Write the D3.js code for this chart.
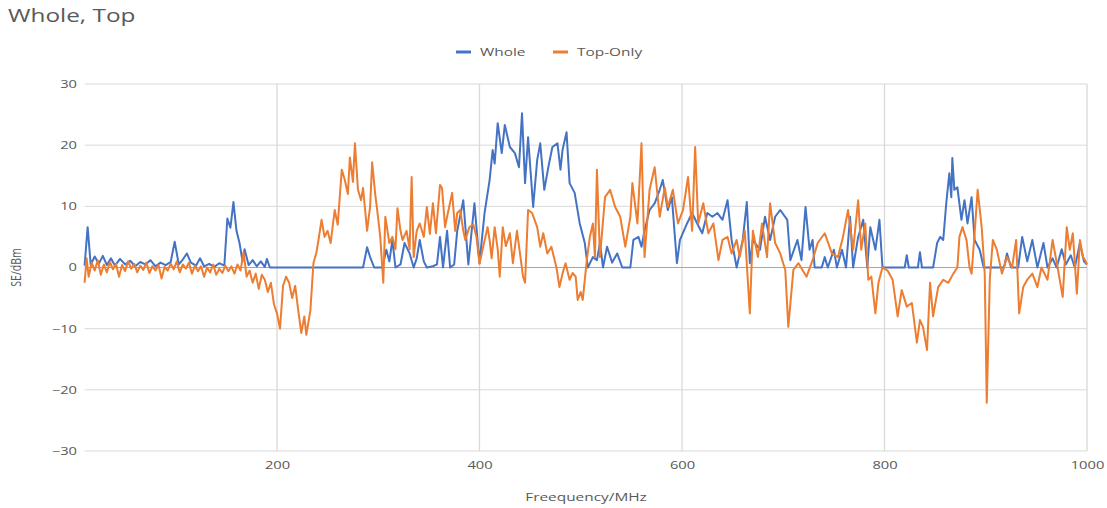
<!DOCTYPE html>
<html>
<head>
<meta charset="utf-8">
<script src="https://cdn.jsdelivr.net/npm/d3@7"></script>
<style>
  html, body { margin: 0; padding: 0; background: #fff; }
  svg { display: block; font-family: "Open Sans", "Noto Sans", sans-serif; }
</style>
</head>
<body>
<svg id="chart" width="1107" height="508"></svg>
<script>
// Frequency (MHz) and level (dBm) samples for each configuration
const wholeFreq = [10,13,16,20,24,28,32,36,40,45,50,55,60,65,70,75,80,85,90,95,99,103,107,111,115,120,124,128,133,138,143,148,151,154,157,160,163,166,168,172,176,180,184,188,190,193,285,289,292,296,304,308,311,314,317,322,326,331,335,338,341,345,348,354,358,361,364,368,371,375,378,384,389,395,400,405,410,413,415,418,422,425,430,435,439,442,445,448,453,457,460,464,468,472,477,480,482,486,489,494,499,504,507,512,516,519,522,526,531,536,541,549,552,557,560,563,568,573,578,581,586,590,595,598,605,610,615,620,625,630,635,640,645,649,654,660,664,667,670,677,682,687,692,697,704,707,714,718,722,726,729,731,738,741,744,750,753,758,762,766,769,774,779,783,786,791,795,798,820,822,824,833,835,837,848,852,855,858,861,864,866,867,869,872,876,879,882,886,889,894,898,918,921,925,932,936,941,946,951,957,961,966,970,975,979,984,988,993,997,1000];
const wholeVal = [0.3,6.6,0.5,1.8,0.6,1.9,0.4,1.5,0.3,1.4,0.5,1.1,0.2,0.9,0.5,1.2,0.2,0.8,0.4,0.9,4.2,0.5,1.3,2.3,0.8,0.3,1.5,0.2,0.6,0.1,0.7,0.3,8.0,6.5,10.7,6.0,4.0,1.0,3.0,0.4,1.2,0.2,1.0,0.1,1.4,0,0,3.3,1.7,0,0,2.9,1.0,4.5,0,0.5,4.0,2.3,0,1.5,4.5,1.0,0,0.2,0.5,5.0,0,6.0,0,0.5,6.0,11.0,0.5,10.5,0.7,8.9,14.3,19.2,17.0,23.6,18.7,23.3,19.7,18.7,16.4,25.2,13.8,21.3,9.9,17.6,20.3,12.7,16.4,19.7,20.3,16.0,19.2,22.1,13.8,12.2,7.2,4.0,0,1.7,1.2,4.0,0,3.4,0.8,2.3,0,0,4.5,5.0,3.4,6.0,9.4,10.5,12.7,14.3,9.4,11.5,0.7,4.5,7.2,8.9,7.2,5.6,8.9,8.3,8.9,7.8,11.0,4.5,0,4.5,10.7,0.7,4.5,2.9,8.3,4.5,8.3,9.4,7.8,1.2,4.5,1.2,9.9,2.9,4.5,0,0,1.7,0,2.9,0,2.9,0,8.3,0,5.0,7.8,0,6.6,2.9,7.8,0,0,2.0,0,0,2.5,0,0,4.0,5.0,4.5,10.5,15.4,11.5,17.9,12.7,13.1,7.8,11.0,7.2,11.5,4.5,2.9,0,0,2.3,0,0,5.0,1.0,4.5,0,4.0,0,1.5,0,3.0,0.5,2.0,0,4.0,1.0,0.5];

const topFreq = [10,12,14,17,20,23,26,29,32,35,38,41,44,47,50,53,56,59,62,65,68,71,74,77,80,83,86,89,92,95,98,101,104,107,110,113,116,119,122,125,128,131,134,137,140,143,146,149,152,155,158,161,164,167,170,173,176,179,182,185,188,191,194,197,200,203,206,209,212,215,218,221,224,227,229,231,233,236,239,241,244,247,250,253,257,260,264,267,270,272,275,277,280,283,285,289,292,294,297,299,302,305,307,311,314,317,319,322,324,328,331,333,335,338,341,345,348,351,354,357,361,363,366,368,373,376,378,381,384,386,390,394,397,400,403,408,410,412,415,418,420,423,426,430,433,437,440,443,445,448,452,457,460,463,467,471,476,479,482,485,489,492,495,497,500,502,506,509,512,514,516,519,524,529,534,539,544,549,551,556,560,563,568,573,578,583,586,591,596,601,606,610,613,616,621,626,631,636,640,645,649,654,657,662,667,670,675,679,684,687,692,697,702,705,710,715,719,723,729,734,741,748,754,759,764,769,774,777,781,784,787,791,794,798,803,808,813,817,822,827,832,835,838,842,845,848,853,858,863,868,872,874,877,881,884,886,889,892,896,899,901,904,907,911,916,921,926,930,933,937,941,946,951,955,961,966,971,976,980,983,986,990,993,996,998,1000];
const topVal = [-2.5,1.5,-1.5,0.8,-0.5,1.2,-1.2,0.5,-0.8,0.9,-0.3,0.6,-1.5,0.4,-0.6,1.0,-0.2,0.6,-0.8,0.3,-0.4,0.8,-0.9,0.2,-0.5,0.4,-1.8,0.1,-0.5,0.6,-0.3,1.0,-0.8,0.5,-0.2,0.8,-1.0,0.3,-0.6,0.2,-1.5,0.0,-0.8,0.5,-1.2,-0.2,-0.9,0.3,-0.6,0.2,-1.0,0.5,-0.5,2.5,-1.5,-0.5,-2.5,-1.0,-3.5,-1.2,-2.0,-4.0,-2.5,-6.0,-7.5,-10.0,-3.0,-1.5,-2.5,-5.0,-3.0,-7.0,-10.7,-8.0,-11.0,-9.0,-7.0,0.7,2.5,4.5,7.8,5.0,6.0,4.0,9.4,7.0,16.0,14.3,12.0,18.0,14.0,20.3,12.7,11.0,13.0,6.0,10.0,17.2,12.0,9.4,5.0,-2.5,8.3,4.0,5.0,3.0,9.7,6.0,4.5,6.0,3.0,14.8,1.7,6.0,7.2,5.0,9.9,5.5,10.5,5.6,13.5,13.0,6.6,8.3,12.2,6.0,8.9,9.4,6.0,4.5,6.6,7.0,5.0,0.6,2.9,6.6,4.5,1.5,6.6,3.0,-1.5,6.6,3.5,5.6,0.7,6.0,2.3,-1.5,-2.5,9.4,8.9,6.6,3.4,5.6,2.3,3.4,0.0,-3.2,-1.0,0.7,-2.0,-0.9,-1.5,-5.3,-4.0,-5.3,1.2,5.0,7.2,1.7,16.0,1.7,11.5,12.7,9.9,8.3,3.4,8.3,13.8,7.2,20.3,1.7,12.7,16.4,8.3,13.1,9.9,12.7,7.2,9.4,14.8,6.0,19.7,7.2,10.5,5.6,7.2,1.2,4.5,5.0,2.3,4.5,1.7,6.0,-7.5,6.0,1.7,7.2,1.7,10.5,4.0,2.3,-0.4,-9.7,-0.4,0.7,-0.4,-1.5,1.2,4.0,5.6,2.3,1.7,5.0,9.4,2.9,11.0,2.9,7.2,-2.0,-1.5,-7.5,-2.5,0,-0.5,-2.0,-8.0,-3.7,-6.4,-5.8,-12.3,-8.6,-9.7,-13.5,-2.5,-8.0,-3.2,-2.0,-2.5,-1.0,0,5.0,6.6,4.5,0,-1.0,5.6,12.7,6.6,-1.0,-22.1,-2.0,4.5,2.9,-1.0,1.7,0,4.5,-7.5,-3.2,-2.0,-1.0,-3.2,0,-2.0,4.5,0,-4.8,6.6,2.9,5.6,-4.3,4.5,1.7,1.2,0.5];

const xTicks = [200, 400, 600, 800, 1000];
const yTicks = [-30, -20, -10, 0, 10, 20, 30];
const seriesNames = ["Whole", "Top-Only"];
const seriesColors = ["#4472C4", "#ED7D31"];

// The chart's lettering is drawn horizontally widened
const WIDE = 1.4;
const TEXT = "#595959";

const svg = d3.select("#chart");
const x = d3.scaleLinear().domain([10, 1000]).range([84.6, 1087]);
const y = d3.scaleLinear().domain([-30, 30]).range([451, 84]);

// Place a widened text label with its anchor at (px, py)
function wideText(px, py, str, size, anchor) {
  return svg.append("text")
    .attr("transform", `translate(${px},${py}) scale(${WIDE},1)`)
    .attr("text-anchor", anchor || "start")
    .attr("font-size", size).attr("fill", TEXT)
    .text(str);
}

// Title
wideText(8, 22, "Whole, Top", 17.4);

// Horizontal gridlines
svg.append("g").selectAll("line")
  .data(yTicks.filter(d => d !== 0))
  .join("line")
  .attr("x1", x(10)).attr("x2", x(1000))
  .attr("y1", d => y(d)).attr("y2", d => y(d))
  .attr("stroke", "#d9d9d9").attr("stroke-width", 1);

// Vertical gridlines
svg.append("g").selectAll("line")
  .data(xTicks)
  .join("line")
  .attr("x1", d => x(d)).attr("x2", d => x(d))
  .attr("y1", y(30)).attr("y2", y(-30))
  .attr("stroke", "#d9d9d9").attr("stroke-width", 1.3);

// Zero axis line
svg.append("line")
  .attr("x1", x(10)).attr("x2", x(1000))
  .attr("y1", y(0)).attr("y2", y(0))
  .attr("stroke", "#a6a6a6").attr("stroke-width", 1);

// Y axis tick labels
const yAxis = d3.axisLeft(y).tickValues(yTicks).tickSize(0).tickPadding(0).tickFormat(d3.format("d"));
const gy = svg.append("g").attr("transform", `translate(77,0)`).call(yAxis);
gy.select(".domain").remove();
gy.selectAll("text")
  .attr("font-size", 10.5).attr("fill", TEXT)
  .attr("font-family", "'Open Sans', sans-serif")
  .attr("transform", `scale(${WIDE},1)`);

// X axis tick labels
const xAxis = d3.axisBottom(x).tickValues(xTicks).tickSize(0).tickPadding(0).tickFormat(d3.format("d"));
const gx = svg.append("g").attr("transform", `translate(0,${y(-30) + 11})`).call(xAxis);
gx.select(".domain").remove();
gx.selectAll("text")
  .attr("font-size", 10.5).attr("fill", TEXT)
  .attr("font-family", "'Open Sans', sans-serif")
  .attr("transform", `scale(${WIDE},1)`);

// Axis titles
wideText(586, 501, "Freequency/MHz", 11, "middle");

svg.append("text")
  .attr("transform", `translate(21,${y(0)}) rotate(-90) scale(1,${WIDE})`)
  .attr("text-anchor", "middle")
  .attr("font-size", 10.5).attr("fill", TEXT)
  .text("SE/dBm");

// Series lines, Whole first and Top-Only drawn over it
const line = d3.line().x(d => x(d[0])).y(d => y(d[1]));
const series = [
  d3.zip(wholeFreq, wholeVal),
  d3.zip(topFreq, topVal)
];
series.forEach((pts, i) => {
  svg.append("path")
    .datum(pts)
    .attr("fill", "none")
    .attr("stroke", seriesColors[i])
    .attr("stroke-width", 2)
    .attr("stroke-linejoin", "round")
    .attr("d", line);
});

// Legend
const legendX = [456, 553];
seriesNames.forEach((name, i) => {
  svg.append("line")
    .attr("x1", legendX[i]).attr("x2", legendX[i] + 15)
    .attr("y1", 52).attr("y2", 52)
    .attr("stroke", seriesColors[i]).attr("stroke-width", 3);
  wideText(legendX[i] + 24, 56, name, 11);
});
</script>
</body>
</html>
